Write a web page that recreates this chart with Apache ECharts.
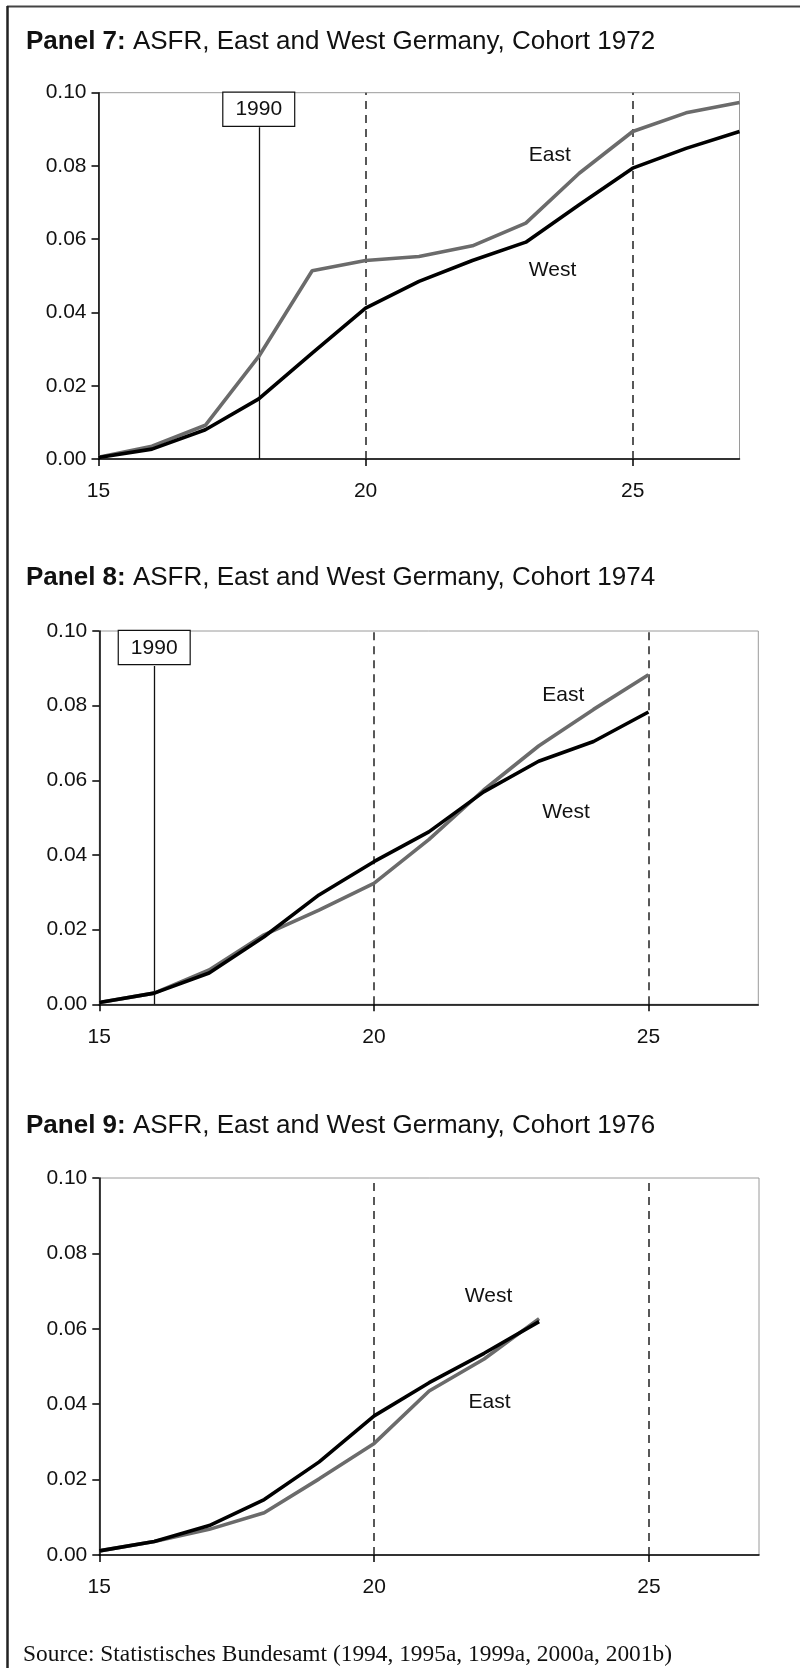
<!DOCTYPE html>
<html>
<head>
<meta charset="utf-8">
<script src="https://cdn.jsdelivr.net/npm/echarts@6/dist/echarts.min.js"></script>
<style>
html,body{margin:0;padding:0;background:#fff;}
#chart{width:800px;height:1668px;}
</style>
</head>
<body>
<div id="chart"></div>
<script>
// ---- Data ----
const ages7 = [15, 16, 17, 18, 19, 20, 21, 22, 23, 24, 25, 26, 27];
const east7 = [0.0005, 0.0035, 0.0092, 0.0280, 0.0514, 0.0542, 0.0553, 0.0582, 0.0644, 0.0780, 0.0894, 0.0945, 0.0973];
const west7 = [0.0004, 0.0027, 0.0080, 0.0164, 0.0289, 0.0412, 0.0485, 0.0542, 0.0592, 0.0694, 0.0794, 0.0848, 0.0894];

const ages8 = [15, 16, 17, 18, 19, 20, 21, 22, 23, 24, 25];
const east8 = [0.0005, 0.0030, 0.0092, 0.0186, 0.0252, 0.0324, 0.0441, 0.0574, 0.0692, 0.0790, 0.0883];
const west8 = [0.0005, 0.0030, 0.0084, 0.0181, 0.0293, 0.0382, 0.0462, 0.0569, 0.0651, 0.0704, 0.0783];

const ages9 = [15, 16, 17, 18, 19, 20, 21, 22, 23];
const east9 = [0.0011, 0.0036, 0.0068, 0.0112, 0.0202, 0.0296, 0.0435, 0.0520, 0.0627];
const west9 = [0.0011, 0.0036, 0.0078, 0.0147, 0.0247, 0.0369, 0.0457, 0.0535, 0.0619];

const xTickValues = [15, 20, 25];
const dashedAges = [20, 25];
const reunificationAge = [18, 16, null]; // age at which cohort experienced 1990
const panelTitles = [
  ['Panel 7:', ' ASFR, East and West Germany, Cohort 1972'],
  ['Panel 8:', ' ASFR, East and West Germany, Cohort 1974'],
  ['Panel 9:', ' ASFR, East and West Germany, Cohort 1976']
];
const sourceText = 'Source: Statistisches Bundesamt (1994, 1995a, 1999a, 2000a, 2001b)';
// label anchor points [age, value]
const eastLabelPos = [[23.45, 0.0830], [23.45, 0.0829], [22.1, 0.0404]];
const westLabelPos = [[23.5, 0.0516], [23.5, 0.0515], [22.08, 0.0687]];

// ---- Layout ----
const grids = [
  {left: 98.5, top: 92.7, width: 641, height: 366.3},
  {left: 99.3, top: 631, width: 659, height: 373.3},
  {left: 99.3, top: 1178, width: 659.7, height: 377}
];
const titleCenters = [41.5, 577.5, 1126];
const TITLE_SIZE = 26;
const FONT = '"Liberation Sans", Arial, Helvetica, sans-serif';
const EAST_COLOR = '#6b6b6b';
const WEST_COLOR = '#000000';

const data = [
  {ages: ages7, east: east7, west: west7},
  {ages: ages8, east: east8, west: west8},
  {ages: ages9, east: east9, west: west9}
];

const chart = echarts.init(document.getElementById('chart'), null, {renderer: 'canvas'});

const option = {
  animation: false,
  backgroundColor: '#fff',
  title: panelTitles.map((t, i) => ({
    text: '{b|' + t[0] + '}' + t[1],
    left: 26,
    top: titleCenters[i] - TITLE_SIZE / 2,
    padding: 0,
    textStyle: {
      fontFamily: FONT, fontSize: TITLE_SIZE, fontWeight: 'normal', color: '#111', lineHeight: TITLE_SIZE,
      rich: {b: {fontFamily: FONT, fontSize: TITLE_SIZE, fontWeight: 'bold', color: '#111', lineHeight: TITLE_SIZE}}
    }
  })),
  grid: grids.map(g => Object.assign({show: true, borderColor: '#9a9a9a', borderWidth: 1, backgroundColor: 'transparent'}, g)),
  xAxis: grids.map((g, i) => ({
    type: 'value', gridIndex: i, min: 15, max: 27, interval: 5,
    splitLine: {show: false},
    axisLine: {show: true, onZero: false, lineStyle: {color: '#000', width: 1.5}},
    axisTick: {show: true, length: 7, customValues: xTickValues, lineStyle: {color: '#000', width: 1.5}},
    axisLabel: {show: true, customValues: xTickValues, margin: 22, fontFamily: FONT, fontSize: 21, color: '#111'}
  })),
  yAxis: grids.map((g, i) => ({
    type: 'value', gridIndex: i, min: 0, max: 0.1, interval: 0.02,
    splitLine: {show: false},
    axisLine: {show: true, lineStyle: {color: '#000', width: 1.5}},
    axisTick: {show: true, length: 7, lineStyle: {color: '#000', width: 1.5}},
    axisLabel: {margin: 12, fontFamily: FONT, fontSize: 21, color: '#111',
      formatter: v => v.toFixed(2)}
  })),
  series: []
};

data.forEach((d, i) => {
  const markLines = dashedAges.map(a => ({
    xAxis: a,
    lineStyle: {type: [8, 6], color: '#222', width: 1.5}
  }));
  const markPoints = [];
  if (reunificationAge[i] != null) {
    markLines.push([
      {coord: [reunificationAge[i], 0], lineStyle: {type: 'solid', color: '#111', width: 1.3}},
      {coord: [reunificationAge[i], 0.0906]}
    ]);
    markPoints.push({
      coord: [reunificationAge[i], 0.1],
      symbol: 'rect', symbolSize: 0,
      label: {
        show: true, position: 'bottom', distance: 0, formatter: '1990',
        fontFamily: FONT, fontSize: 21, color: '#111', lineHeight: 22,
        backgroundColor: '#fff', borderColor: '#111', borderWidth: 1.2,
        padding: [6, 12, 5, 12]
      }
    });
  }
  option.series.push({
    name: 'East', type: 'line', xAxisIndex: i, yAxisIndex: i,
    data: d.ages.map((a, k) => [a, d.east[k]]),
    showSymbol: false, symbol: 'none', z: 3,
    lineStyle: {color: EAST_COLOR, width: 3.6},
    itemStyle: {color: EAST_COLOR},
    markPoint: {
      silent: true, symbol: 'circle', symbolSize: 0,
      data: [{coord: eastLabelPos[i], label: {show: true, position: 'inside', formatter: 'East',
        fontFamily: FONT, fontSize: 21, color: '#111'}}]
    }
  });
  option.series.push({
    name: 'West', type: 'line', xAxisIndex: i, yAxisIndex: i,
    data: d.ages.map((a, k) => [a, d.west[k]]),
    showSymbol: false, symbol: 'none', z: 4,
    lineStyle: {color: WEST_COLOR, width: 3.6},
    itemStyle: {color: WEST_COLOR},
    markLine: {silent: true, symbol: ['none', 'none'], label: {show: false}, data: markLines, z: 1},
    markPoint: {
      silent: true, symbol: 'circle', symbolSize: 0,
      data: [{coord: westLabelPos[i], label: {show: true, position: 'inside', formatter: 'West',
        fontFamily: FONT, fontSize: 21, color: '#111'}}].concat(markPoints)
    }
  });
});

option.graphic = [
  {type: 'line', shape: {x1: 7, y1: 6.5, x2: 800, y2: 6.5}, style: {stroke: '#444', lineWidth: 2}, silent: true},
  {type: 'line', shape: {x1: 7.5, y1: 6, x2: 7.5, y2: 1668}, style: {stroke: '#222', lineWidth: 2.5}, silent: true},
  {type: 'text', left: 23, top: 1643, silent: true,
    style: {text: sourceText, font: '23.4px "Liberation Serif", "Times New Roman", serif', fill: '#111'}}
];

chart.setOption(option);
</script>
</body>
</html>
